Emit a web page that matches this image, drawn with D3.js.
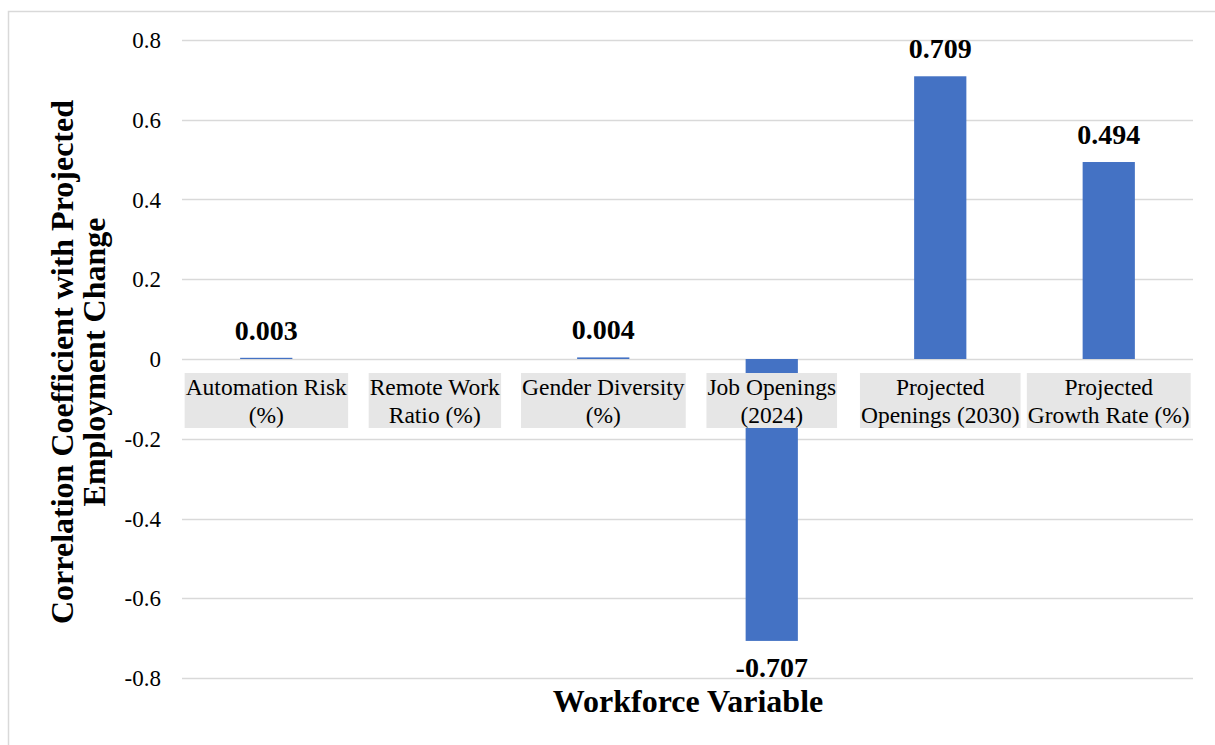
<!DOCTYPE html>
<html><head><meta charset="utf-8">
<script src="https://cdn.jsdelivr.net/npm/d3@7"></script>
<style>body{margin:0;background:#fff;}svg{display:block;font-family:"Liberation Serif","Times New Roman",serif;}</style>
</head><body><svg id="c" width="1215" height="745"></svg>
<script>
const categories = [["Automation Risk","(%)"],["Remote Work","Ratio (%)"],["Gender Diversity","(%)"],["Job Openings","(2024)"],["Projected","Openings (2030)"],["Projected","Growth Rate (%)"]];
const values = [0.003, 0.000, 0.004, -0.707, 0.709, 0.494];
const valueLabels = ["0.003", null, "0.004", "-0.707", "0.709", "0.494"];
const yTicks = [-0.8,-0.6,-0.4,-0.2,0,0.2,0.4,0.6,0.8];
const yTickLabels = ["-0.8","-0.6","-0.4","-0.2","0","0.2","0.4","0.6","0.8"];

const svg = d3.select("#c");
svg.append("rect").attr("x",8.5).attr("y",11.5).attr("width",1230).attr("height",760).attr("fill","#fff").attr("stroke","#d9d9d9").attr("stroke-width",1.5);
const L=182,R=1193,T=40,B=678;
const y = d3.scaleLinear().domain([-0.8,0.8]).range([B,T]);
const x = d3.scaleBand().domain(d3.range(categories.length)).range([L,R]).paddingInner(0.69).paddingOuter(0.345);
const xb = d3.scaleBand().domain(d3.range(categories.length)).range([L,R]);

svg.append("g").selectAll("line").data(yTicks).join("line")
  .attr("x1",L).attr("x2",R).attr("y1",d=>Math.round(y(d))+0.5).attr("y2",d=>Math.round(y(d))+0.5)
  .attr("stroke","#d9d9d9").attr("stroke-width",1.5);
svg.append("g").selectAll("text").data(yTicks).join("text")
  .attr("x",161).attr("y",d=>y(d)+8).attr("text-anchor","end").attr("font-size",23).attr("fill","#000")
  .text((d,i)=>yTickLabels[i]);

svg.append("g").selectAll("rect").data(values).join("rect")
  .attr("x",(d,i)=>x(i)).attr("width",x.bandwidth())
  .attr("y",d=>y(Math.max(0,d))).attr("height",d=>Math.abs(y(d)-y(0)))
  .attr("fill","#4472C4");

svg.append("g").selectAll("text").data(values).join("text")
  .attr("x",(d,i)=>x(i)+x.bandwidth()/2)
  .attr("y",d=>d>=0? y(d)-18 : y(d)+36)
  .attr("text-anchor","middle").attr("font-size",28).attr("font-weight","bold").attr("fill","#000")
  .text((d,i)=>valueLabels[i]||"");

// category labels with gray boxes
const cg = svg.append("g");
categories.forEach((c,i)=>{
  const cx = xb(i)+xb.bandwidth()/2;
  const g = cg.append("g");
  const bg = g.append("rect").attr("fill","#e6e6e6");
  const t = g.append("text").attr("text-anchor","middle").attr("font-size",23.5).attr("fill","#000");
  c.forEach((line,k)=>t.append("tspan").attr("x",cx).attr("y",395+k*27.5).text(line));
  const bb = t.node().getBBox();
  bg.attr("x",bb.x-1).attr("width",bb.width+2).attr("y",373).attr("height",55);
});

svg.append("text").attr("x",688).attr("y",712).attr("text-anchor","middle").attr("font-size",32).attr("font-weight","bold").text("Workforce Variable");
const yt = svg.append("text").attr("transform","translate(0,362) rotate(-90)").attr("text-anchor","middle").attr("font-size",32).attr("font-weight","bold");
yt.append("tspan").attr("x",0).attr("y",73).text("Correlation Coefficient with Projected");
yt.append("tspan").attr("x",0).attr("y",105).text("Employment Change");
</script></body></html>
